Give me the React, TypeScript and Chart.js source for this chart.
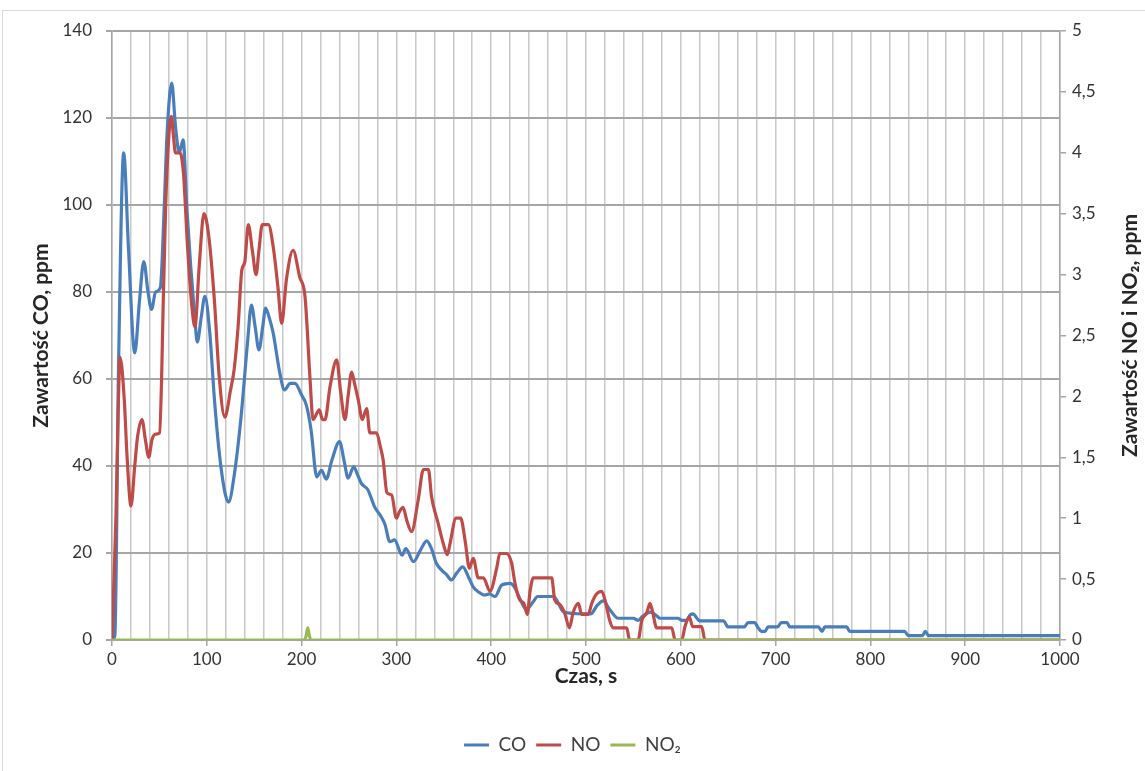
import React, { useEffect, useRef } from 'react';
import { Chart, registerables } from 'chart.js';

Chart.register(...registerables);

// ---- data ----
const coTime = [0, 3, 7, 12.3, 17.4, 24, 29, 33.5, 38, 41.7, 46, 51, 55, 58, 63, 67, 71, 75, 79, 83, 87, 90, 94, 98, 103, 108, 113, 119, 123, 129, 136, 143, 147, 151, 155, 159, 162, 166, 170, 177, 182, 188, 193, 200, 205, 210, 216, 221, 226, 232, 240, 245, 249, 255, 259, 263, 270, 277, 284, 288, 293, 298, 306, 310, 318, 325, 332, 337, 342, 348, 353, 358, 364, 370, 376, 381, 387, 393, 398, 404, 411, 420, 425, 430, 437, 444, 449, 466, 471, 476, 497, 505, 512, 518, 525, 534, 550, 555, 560, 568, 575, 578, 597, 601, 606, 610, 613, 617, 620, 645, 650, 667, 671, 678, 681, 685, 689, 692, 702, 706, 712, 715, 745, 749, 752, 775, 778, 836, 840, 855, 858, 861, 1000];
const coValues = [0, 1, 64, 112, 90, 66, 78, 87, 80, 76, 80, 81, 99, 116, 128, 118, 112, 115, 99, 86, 75, 68.5, 74, 79, 71, 55.5, 43.4, 34, 31.7, 38, 51, 68.5, 77, 72, 66.7, 72, 76.3, 74, 70.6, 61.4, 57.5, 59, 59, 56.3, 54, 48.3, 37.5, 39, 37, 41.4, 45.6, 41, 37.2, 39.8, 38, 36, 34.5, 30.6, 28.3, 26.5, 22.6, 23, 19.5, 21, 18, 20.5, 22.8, 21, 17.7, 16, 15, 13.8, 15.5, 16.8, 14.5, 12.2, 11, 10.3, 10.6, 10, 12.6, 13, 12, 9.6, 7, 8.7, 10, 10, 8.4, 6.5, 6, 6, 8, 9, 7, 5, 5, 4.5, 5.5, 6.4, 5.5, 5, 5, 4.5, 4.5, 5.8, 6, 5, 4.4, 4.4, 3, 3, 4, 4, 3, 2, 2, 3, 3, 4, 4, 3, 3, 2, 3, 3, 2, 2, 1, 1, 2, 1, 1];

const noTime = [0, 4.3, 6.8, 8.6, 12.9, 15.8, 20, 24, 27, 31.6, 35.3, 38.8, 42, 46, 50.2, 52.3, 54, 56.5, 59.5, 62.6, 64.8, 66.9, 71.7, 75.4, 79.6, 84, 87.5, 92, 97, 102, 108, 113, 119, 125, 129, 133, 137, 140, 143.8, 148, 152, 155, 158.5, 165, 170, 175, 179, 184, 191, 198, 203.6, 209, 212, 218.7, 222, 224.7, 230, 237, 241, 245.8, 249, 252.8, 256, 259.8, 264, 268.6, 272, 279, 283, 286, 290, 295, 300, 303, 307, 311, 316, 323, 328.5, 333.8, 337, 344, 349.5, 353.7, 356.5, 362.9, 367.8, 372.4, 377, 381, 386.4, 391.7, 398.7, 405.8, 409, 416, 421.6, 425, 430, 434.6, 438, 441, 444.4, 463.8, 467, 472.6, 478, 482.4, 486.6, 492, 495.4, 502.4, 506, 511.3, 516.6, 520, 525, 528.8, 542.9, 546, 555, 558.8, 564, 567.5, 570.3, 574.5, 590.4, 594, 601, 604.4, 609, 612.5, 622, 625.5, 1000];
const noValues = [0, 1.05, 1.98, 2.32, 1.98, 1.52, 1.1, 1.43, 1.67, 1.81, 1.64, 1.5, 1.64, 1.69, 1.7, 2.14, 2.76, 3.53, 4.08, 4.3, 4.14, 4.0, 4.0, 3.83, 3.24, 2.76, 2.57, 3.07, 3.5, 3.32, 2.79, 2.17, 1.83, 2.05, 2.23, 2.57, 3.04, 3.1, 3.41, 3.2, 3.0, 3.2, 3.41, 3.41, 3.23, 2.9, 2.6, 2.96, 3.2, 2.98, 2.82, 2.13, 1.81, 1.89, 1.81, 1.81, 2.08, 2.3, 2.05, 1.81, 2.0, 2.2, 2.1, 1.97, 1.81, 1.9, 1.7, 1.7, 1.59, 1.48, 1.21, 1.19, 1.0, 1.05, 1.09, 0.98, 0.89, 1.15, 1.4, 1.4, 1.18, 0.96, 0.79, 0.7, 0.79, 1.0, 1.0, 0.82, 0.59, 0.67, 0.51, 0.51, 0.4, 0.59, 0.71, 0.71, 0.63, 0.47, 0.33, 0.3, 0.21, 0.4, 0.51, 0.51, 0.33, 0.29, 0.21, 0.1, 0.23, 0.3, 0.21, 0.21, 0.3, 0.38, 0.4, 0.33, 0.16, 0.1, 0.1, 0, 0, 0.16, 0.22, 0.3, 0.23, 0.1, 0.1, 0, 0, 0.11, 0.19, 0.11, 0.11, 0, 0];

const no2Time = [0, 203, 205, 206.5, 208, 210, 1000];
const no2Values = [0, 0, 0.04, 0.1, 0.04, 0, 0];

const seriesNames = ['CO', 'NO', 'NO\u2082'];
const seriesColors = ['#4a7ebb', '#be4b48', '#98b954'];

const xTickLabels = [0, 100, 200, 300, 400, 500, 600, 700, 800, 900, 1000];
const leftTickLabels = ['0', '20', '40', '60', '80', '100', '120', '140'];
const rightTickLabels = ['0', '0,5', '1', '1,5', '2', '2,5', '3', '3,5', '4', '4,5', '5'];

const xTitle = 'Czas, s';
const leftTitle = 'Zawartość CO, ppm';
const rightTitle = 'Zawartość NO i NO\u2082, ppm';

const FONT = 'Lato, "Open Sans", sans-serif';
const TITLE_SIZE = 21;
const TICK_SIZE = 17;

function toPoints(xs: number[], ys: number[]) {
  return xs.map((x, i) => ({ x, y: ys[i] }));
}

const rightTitlePlugin = {
  id: 'rightTitle',
  afterDraw(chart: any) {
    const { ctx, chartArea } = chart;
    const s = chart.scales.y1;
    ctx.save();
    ctx.translate(s.right - 15, (chartArea.top + chartArea.bottom) / 2);
    ctx.rotate(-Math.PI / 2);
    ctx.font = `bold ${TITLE_SIZE}px ${FONT}`;
    ctx.fillStyle = '#262626';
    ctx.textAlign = 'center';
    ctx.textBaseline = 'middle';
    ctx.fillText(rightTitle, 0, 0);
    ctx.restore();
  },
};

export default function App() {
  const ref = useRef<HTMLCanvasElement | null>(null);

  useEffect(() => {
    if (!ref.current) return;
    const mk = (i: number, xs: number[], ys: number[], axis: string, order: number) => ({
      label: seriesNames[i],
      data: toPoints(xs, ys),
      borderColor: seriesColors[i],
      backgroundColor: seriesColors[i],
      borderWidth: 3.2,
      yAxisID: axis,
      order,
    });
    const chart = new Chart(ref.current, {
      type: 'line',
      data: {
        datasets: [
          mk(0, coTime, coValues, 'y', 3),
          mk(1, noTime, noValues, 'y1', 2),
          mk(2, no2Time, no2Values, 'y1', 1),
        ],
      },
      options: {
        responsive: false,
        animation: false,
        elements: {
          point: { radius: 0, hoverRadius: 0 },
          line: { cubicInterpolationMode: 'monotone' },
        },
        layout: { padding: { left: 0, right: 0, top: 31, bottom: 6.5 } },
        plugins: {
          tooltip: { enabled: false },
          legend: {
            position: 'bottom',
            labels: {
              usePointStyle: true,
              pointStyle: 'line',
              pointStyleWidth: 25,
              padding: 10,
              color: '#404040',
              font: { family: FONT, size: 19 },
              sort: (a: any, b: any) => a.datasetIndex - b.datasetIndex,
            },
          },
        },
        scales: {
          x: {
            type: 'linear',
            min: 0,
            max: 1000,
            afterFit: (s: any) => {
              s.height = 85.5;
            },
            ticks: {
              stepSize: 20,
              autoSkip: false,
              maxRotation: 0,
              padding: 3,
              color: '#333333',
              font: { family: FONT, size: TICK_SIZE },
              callback: (v: any) => (xTickLabels.includes(Number(v)) ? String(v) : ''),
            },
            grid: {
              color: '#c8c8c8',
              lineWidth: 1.5,
              tickLength: 6,
              tickColor: (c: any) => (c.tick && xTickLabels.includes(c.tick.value) ? '#a6a6a6' : 'rgba(0,0,0,0)'),
            },
            border: { display: true, color: '#a6a6a6', width: 1.5 },
            title: {
              display: true,
              text: xTitle,
              color: '#262626',
              font: { family: FONT, size: TITLE_SIZE, weight: 'bold' },
              padding: { top: 0, bottom: 37 },
            },
          },
          y: {
            type: 'linear',
            position: 'left',
            min: 0,
            max: 140,
            afterFit: (s: any) => {
              s.width = 112;
            },
            ticks: {
              stepSize: 20,
              padding: 14,
              color: '#333333',
              font: { family: FONT, size: TICK_SIZE },
              callback: (v: any) => leftTickLabels[Math.round(Number(v) / 20)] ?? '',
            },
            grid: { color: '#a6a6a6', lineWidth: 2, tickLength: 6, tickColor: '#a6a6a6' },
            border: { display: true, color: '#a6a6a6', width: 1.5 },
            title: {
              display: true,
              text: leftTitle,
              color: '#262626',
              font: { family: FONT, size: TITLE_SIZE, weight: 'bold' },
              padding: { top: 29, bottom: 0 },
            },
          },
          y1: {
            type: 'linear',
            position: 'right',
            min: 0,
            max: 5,
            afterFit: (s: any) => {
              s.width = 85;
            },
            ticks: {
              stepSize: 0.5,
              padding: 6,
              color: '#333333',
              font: { family: FONT, size: TICK_SIZE },
              callback: (v: any) => rightTickLabels[Math.round(Number(v) * 2)] ?? '',
            },
            grid: { drawOnChartArea: false, tickLength: 6, tickColor: '#a6a6a6', lineWidth: 1.5 },
            border: { display: true, color: '#a6a6a6', width: 1.5 },
          },
        },
      },
      plugins: [rightTitlePlugin],
    } as any);
    return () => chart.destroy();
  }, []);

  return (
    <div style={{ position: 'absolute', left: 0, top: 0, width: 1145, height: 771, background: '#fff', overflow: 'hidden' }}>
      <div
        style={{
          position: 'absolute',
          left: 2,
          top: 10,
          width: 1160,
          height: 800,
          borderTop: '1px solid #d9d9d9',
          borderLeft: '1px solid #d9d9d9',
        }}
      />
      <canvas ref={ref} width={1145} height={771} style={{ position: 'absolute', left: 0, top: 0 }} />
    </div>
  );
}
